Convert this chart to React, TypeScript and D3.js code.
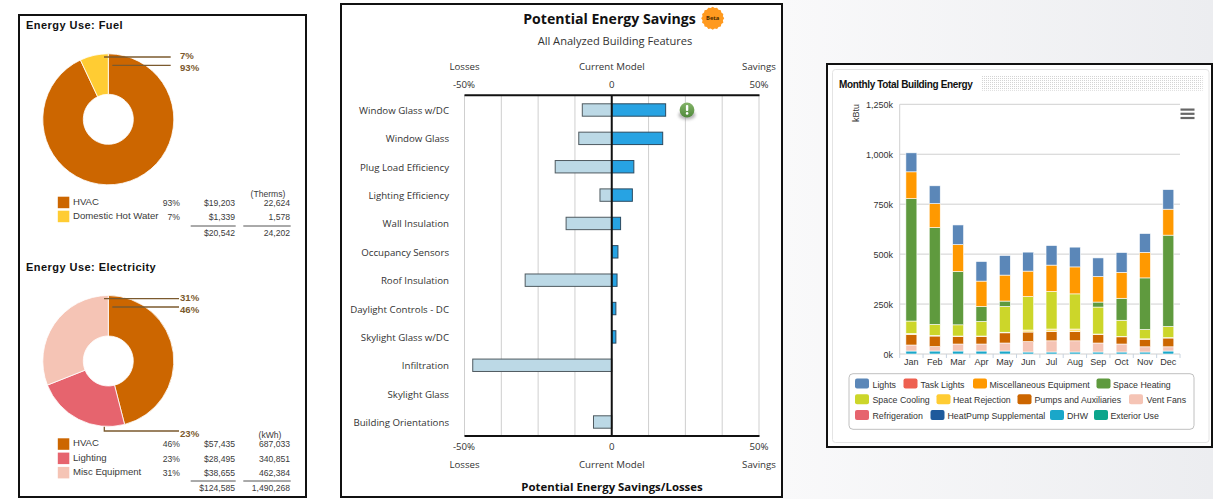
import React from "react";
import * as d3 from "d3";

const fuelLabels = ["HVAC", "Domestic Hot Water"];
const fuelPct = [93, 7];
const fuelCost = ["$19,203", "$1,339"];
const fuelUse = ["22,624", "1,578"];
const fuelColors = ["#cc6600", "#ffcc33"];
const elecLabels = ["HVAC", "Lighting", "Misc Equipment"];
const elecPct = [46, 23, 31];
const elecCost = ["$57,435", "$28,495", "$38,655"];
const elecUse = ["687,033", "340,851", "462,384"];
const elecColors = ["#cc6600", "#e6646e", "#f5c4b5"];

const features = ["Window Glass w/DC", "Window Glass", "Plug Load Efficiency", "Lighting Efficiency", "Wall Insulation", "Occupancy Sensors", "Roof Insulation", "Daylight Controls - DC", "Skylight Glass w/DC", "Infiltration", "Skylight Glass", "Building Orientations"];
const losses = [-10, -11.2, -19.2, -4, -15.5, 0, -29.4, 0, 0, -47.2, 0, -6.2];
const savings = [18.3, 17.3, 7.5, 7, 3, 2.1, 1.8, 1.4, 1.4, 0, 0, 0];

const months = ["Jan", "Feb", "Mar", "Apr", "May", "Jun", "Jul", "Aug", "Sep", "Oct", "Nov", "Dec"];
const dhw = [15, 15, 15, 15, 15, 10, 10, 10, 10, 10, 10, 15];
const ventFans = [30, 22, 35, 35, 40, 52, 56, 56, 45, 40, 26, 21];
const pumps = [53, 53, 38, 38, 51, 48, 47, 47, 43, 36, 38, 44];
const heatRejection = [5, 3, 2, 2, 3, 10, 12, 12, 2, 2, 2, 2];
const spaceCooling = [62, 55, 56, 73, 129, 168, 188, 176, 135, 81, 47, 56];
const spaceHeating = [613, 485, 267, 75, 27, 0, 0, 0, 25, 110, 258, 457];
const miscEquipment = [134, 120, 135, 127, 130, 127, 132, 135, 128, 130, 128, 130];
const lights = [95, 89, 98, 98, 98, 95, 98, 99, 93, 99, 94, 98];
const stackSeries = [
  { values: dhw, color: "#1aa7c9" },
  { values: ventFans, color: "#f5c4b5" },
  { values: pumps, color: "#cc6600" },
  { values: heatRejection, color: "#ffdf70" },
  { values: spaceCooling, color: "#ccd62a" },
  { values: spaceHeating, color: "#5f9a3e" },
  { values: miscEquipment, color: "#ff9900" },
  { values: lights, color: "#5b87b8" },
];
const yTicks = [0, 250, 500, 750, 1000, 1250];
const legendRows = [
  [["Lights", "#5b87b8", 855, 872.5], ["Task Lights", "#ee6050", 903.5, 920.5], ["Miscellaneous Equipment", "#ff9900", 973, 989.5], ["Space Heating", "#5f9a3e", 1096.5, 1113]],
  [["Space Cooling", "#ccd62a", 855, 872.5], ["Heat Rejection", "#ffcc33", 936.5, 953], ["Pumps and Auxiliaries", "#cc6600", 1017.5, 1034.5], ["Vent Fans", "#f5c4b5", 1129, 1146.5]],
  [["Refrigeration", "#e6646e", 855, 872.5], ["HeatPump Supplemental", "#1e5a9c", 930.5, 947.5], ["DHW", "#1aa7c9", 1050, 1067], ["Exterior Use", "#0ba58c", 1094, 1110.5]],
] as [string, string, number, number][][];

const ARIAL = "Liberation Sans, Arial, sans-serif";
const SEGOE = "Open Sans, sans-serif";
const BROWN = "#7b5a2e";

function Donut({ cy, pct, colors }: { cy: number; pct: number[]; colors: string[] }) {
  const arcs = d3.pie<number>().sort(null)(pct);
  const arc = d3.arc<d3.PieArcDatum<number>>().innerRadius(25).outerRadius(65.5);
  return (
    <g transform={`translate(108.3,${cy})`}>
      {arcs.map((a, i) => (
        <path key={i} d={arc(a) || ""} fill={colors[i]} stroke="#fff" strokeWidth={0.8} />
      ))}
    </g>
  );
}

function EnergyTable({ y0, labels, pct, cost, use, colors, unit, unitX, totalCost, totalUse, rowH, lineY }: any) {
  const t = { fontFamily: ARIAL, fontSize: 8.6, fill: "#3a3a3a" };
  return (
    <g>
      <text x={unitX} y={y0 - 9} {...t} textAnchor="middle">{unit}</text>
      {labels.map((l: string, i: number) => {
        const y = y0 + i * rowH;
        return (
          <g key={l}>
            <rect x={57.8} y={y - 9} width={11.5} height={11.5} fill={colors[i]} />
            <text x={73} y={y - 1} {...t} fontSize={9.6}>{l}</text>
            <text x={180} y={y} {...t} textAnchor="end">{pct[i]}%</text>
            <text x={235} y={y} {...t} textAnchor="end">{cost[i]}</text>
            <text x={290} y={y} {...t} textAnchor="end">{use[i]}</text>
          </g>
        );
      })}
      <line x1={190.7} x2={235.7} y1={lineY} y2={lineY} stroke="#555" strokeWidth={1} />
      <line x1={243.3} x2={290.7} y1={lineY} y2={lineY} stroke="#555" strokeWidth={1} />
      <text x={235} y={lineY + 10} {...t} textAnchor="end">{totalCost}</text>
      <text x={290} y={lineY + 10} {...t} textAnchor="end">{totalUse}</text>
    </g>
  );
}

function Leader({ d }: { d: string }) {
  return <path d={d} fill="none" stroke={BROWN} strokeWidth={1.3} />;
}
function PctLabel({ y, text }: { y: number; text: string }) {
  return (
    <text x={180} y={y} fontFamily={ARIAL} fontSize={9.6} fontWeight={700} fill={BROWN}>{text}</text>
  );
}

function LeftPanel() {
  return (
    <g>
      <rect x={19} y={15} width={287} height={482} fill="#fff" stroke="#111" strokeWidth={2} />
      <text x={26} y={29} fontFamily={ARIAL} fontWeight={700} fontSize={11} letterSpacing={0.45} fill="#111">Energy Use: Fuel</text>
      <Donut cy={119.3} pct={fuelPct} colors={fuelColors} />
      <Leader d="M104,57H170.7" />
      <Leader d="M112.3,65.3H170.7" />
      <PctLabel y={58.5} text="7%" />
      <PctLabel y={70.7} text="93%" />
      <EnergyTable y0={205.7} labels={fuelLabels} pct={fuelPct} cost={fuelCost} use={fuelUse} colors={fuelColors} unit="(Therms)" unitX={268} totalCost="$20,542" totalUse="24,202" rowH={14} lineY={226} />

      <text x={26} y={271} fontFamily={ARIAL} fontWeight={700} fontSize={11} letterSpacing={0.45} fill="#111">Energy Use: Electricity</text>
      <Donut cy={361} pct={elecPct} colors={elecColors} />
      <Leader d="M104,298.7H179" />
      <Leader d="M112.3,307H179" />
      <Leader d="M104.3,426.7V431H179" />
      <PctLabel y={300.5} text="31%" />
      <PctLabel y={312.7} text="46%" />
      <PctLabel y={436.7} text="23%" />
      <EnergyTable y0={447.3} labels={elecLabels} pct={elecPct} cost={elecCost} use={elecUse} colors={elecColors} unit="(kWh)" unitX={270} totalCost="$124,585" totalUse="1,490,268" rowH={14.3} lineY={481} />
    </g>
  );
}

function CenterPanel() {
  const x = d3.scaleLinear().domain([-50, 50]).range([464.5, 759]);
  const y = d3.scalePoint<string>().domain(features).range([110, 422]);
  const grid = d3.range(-37.5, 50, 12.5).filter((v) => v !== 0);
  const t = { fontFamily: SEGOE, fontSize: 9.7, fill: "#333" };
  const edge = (yy: number) => [
    <text key="a" x={x(-50)} y={yy} {...t} textAnchor="middle">Losses</text>,
    <text key="b" x={x(0)} y={yy} {...t} textAnchor="middle">Current Model</text>,
    <text key="c" x={x(50)} y={yy} {...t} textAnchor="middle">Savings</text>,
  ];
  const tickLabels = (yy: number) => [
    <text key="a" x={464} y={yy} {...t} textAnchor="middle">-50%</text>,
    <text key="b" x={x(0)} y={yy} {...t} textAnchor="middle">0</text>,
    <text key="c" x={759} y={yy} {...t} textAnchor="middle">50%</text>,
  ];
  const starPts = d3.range(32).map((i) => {
    const r = i % 2 ? 10.4 : 11.5;
    const a = (i / 32) * Math.PI * 2;
    return `${712.7 + r * Math.cos(a)},${18.3 + r * Math.sin(a)}`;
  }).join(" ");
  return (
    <g>
      <rect x={341} y={4} width={441} height={493} fill="#fff" stroke="#111" strokeWidth={2} />
      <text x={609.5} y={24} fontFamily={SEGOE} fontWeight={700} fontSize={14.1} fill="#111" textAnchor="middle">Potential Energy Savings</text>
      <polygon points={starPts} fill="#ff9a1f" />
      <text x={712.7} y={20.4} fontFamily={SEGOE} fontWeight={700} fontSize={5.8} fill="#4a2a00" textAnchor="middle">Beta</text>
      <text x={615} y={45} fontFamily={SEGOE} fontSize={11.1} fill="#333" textAnchor="middle">All Analyzed Building Features</text>
      {edge(70)}
      {tickLabels(88)}
      {[-50, ...grid, 50].map((v) => (
        <line key={v} x1={x(v)} x2={x(v)} y1={95} y2={436} stroke="#cfcfcf" strokeWidth={1} />
      ))}
      {features.map((f, i) => {
        const cy = y(f)!;
        return (
          <g key={f}>
            <text x={449} y={cy + 4} {...t} textAnchor="end">{f}</text>
            {losses[i] !== 0 && (
              <rect x={x(losses[i])} y={cy - 6.2} width={x(0) - x(losses[i])} height={12.4} fill="#bcd9e6" stroke="#4f5a60" strokeWidth={1} />
            )}
            {savings[i] !== 0 && (
              <rect x={x(0)} y={cy - 6.2} width={x(savings[i]) - x(0)} height={12.4} fill="#27a3e3" stroke="#2b4a60" strokeWidth={1} />
            )}
          </g>
        );
      })}
      <line x1={x(0)} x2={x(0)} y1={95} y2={436} stroke="#111" strokeWidth={2} />
      <line x1={464.5} x2={759.5} y1={95.3} y2={95.3} stroke="#111" strokeWidth={2} />
      <line x1={464.5} x2={759.5} y1={436} y2={436} stroke="#111" strokeWidth={2} />
      <defs>
        <filter id="alertShadow" x="-50%" y="-50%" width="200%" height="200%">
          <feGaussianBlur stdDeviation="1.4" />
        </filter>
        <linearGradient id="alertFill" x1="0" x2="0" y1="0" y2="1">
          <stop offset="0" stopColor="#85b46a" />
          <stop offset="1" stopColor="#4f8a3a" />
        </linearGradient>
      </defs>
      <ellipse cx={687} cy={115} rx={8.5} ry={4.5} fill="#777" opacity={0.55} filter="url(#alertShadow)" />
      <circle cx={687} cy={110} r={7.4} fill="url(#alertFill)" />
      <rect x={685.9} y={105} width={2.4} height={6} rx={1} fill="#fff" />
      <circle cx={687.1} cy={113.4} r={1.3} fill="#fff" />
      {tickLabels(450)}
      {edge(468)}
      <text x={612} y={491} fontFamily={SEGOE} fontWeight={700} fontSize={11.4} fill="#111" textAnchor="middle">Potential Energy Savings/Losses</text>
    </g>
  );
}

function RightPanel() {
  const x = d3.scaleBand<string>().domain(months).range([899.7, 1180]);
  const y = d3.scaleLinear().domain([0, 1250]).range([354, 104.3]);
  const barW = 11;
  const stacked = d3.stack<number>()
    .keys(stackSeries.map((_, i) => String(i)))
    .value((m, k) => stackSeries[+k].values[m])(months.map((_, i) => i));
  const fmt = d3.format(",");
  const t = { fontFamily: ARIAL, fontSize: 9, fill: "#333" };
  return (
    <g>
      <rect x={827} y={64} width={385} height={383} fill="#fff" stroke="#111" strokeWidth={2} />
      <rect x={832.5} y={69.5} width={376.5} height={373} rx={3} fill="#fff" stroke="#e4e4e4" strokeWidth={1} />
      <text x={839} y={88} fontFamily={ARIAL} fontWeight={700} fontSize={10} letterSpacing={-0.35} fill="#111">Monthly Total Building Energy</text>
      <defs>
        <pattern id="dots" width={2} height={2} patternUnits="userSpaceOnUse">
          <rect width={2} height={2} fill="#fff" />
          <rect width={1} height={1} fill="#d4d4d4" />
        </pattern>
      </defs>
      <rect x={981} y={76} width={221.7} height={14.7} fill="url(#dots)" />
      <text transform="translate(858.5,113) rotate(-90)" {...t} textAnchor="middle">kBtu</text>
      {yTicks.map((v) => (
        <g key={v}>
          <line x1={x.range()[0]} x2={1180} y1={y(v)} y2={y(v)} stroke="#d0d0d0" strokeWidth={1} />
          <text x={893} y={y(v) + 4} {...t} textAnchor="end">{fmt(v)}k</text>
        </g>
      ))}
      <line x1={899.7} x2={899.7} y1={104.3} y2={354} stroke="#d0d0d0" strokeWidth={1} />
      {months.map((m) => (
        <g key={m}>
          <line x1={x(m)!} x2={x(m)!} y1={354} y2={358} stroke="#c8d4e0" strokeWidth={1} />
          <text x={x(m)! + x.bandwidth() / 2} y={365} {...t} textAnchor="middle">{m}</text>
        </g>
      ))}
      <line x1={1180} x2={1180} y1={354} y2={358} stroke="#c8d4e0" strokeWidth={1} />
      {stacked.map((s, si) =>
        s.map((d, i) => {
          if (d[1] - d[0] <= 0) return null;
          return (
            <rect key={`${si}-${i}`} x={x(months[i])! + (x.bandwidth() - barW) / 2} y={y(d[1])} width={barW} height={y(d[0]) - y(d[1])} fill={stackSeries[si].color} stroke="#fff" strokeWidth={0.6} />
          );
        })
      )}
      {[0, 1, 2].map((i) => (
        <rect key={i} x={1180.5} y={108.5 + i * 4.2} width={14} height={2.2} fill="#666" />
      ))}
      <rect x={849} y={373.7} width={345} height={55.6} rx={4} fill="#fff" stroke="#c0c0c0" strokeWidth={1} />
      {legendRows.map((row, r) =>
        row.map(([name, color, sx, tx]) => (
          <g key={name}>
            <rect x={sx} y={378.5 + r * 15.8} width={14} height={10} rx={2} fill={color} />
            <text x={tx} y={387.5 + r * 15.8} {...t} fontSize={8.8}>{name}</text>
          </g>
        ))
      )}
    </g>
  );
}

export default function App() {
  return (
    <svg width={1213} height={499} style={{ position: "absolute", left: 0, top: 0, background: "#fff" }}>
      <defs>
        <linearGradient id="page" x1="0" x2="1" y1="0" y2="0">
          <stop offset="0" stopColor="#ffffff" />
          <stop offset="0.645" stopColor="#ffffff" />
          <stop offset="0.646" stopColor="#f9f9fa" />
          <stop offset="1" stopColor="#ecedf0" />
        </linearGradient>
      </defs>
      <rect x={0} y={0} width={1213} height={499} fill="url(#page)" />
      <LeftPanel />
      <CenterPanel />
      <RightPanel />
    </svg>
  );
}
